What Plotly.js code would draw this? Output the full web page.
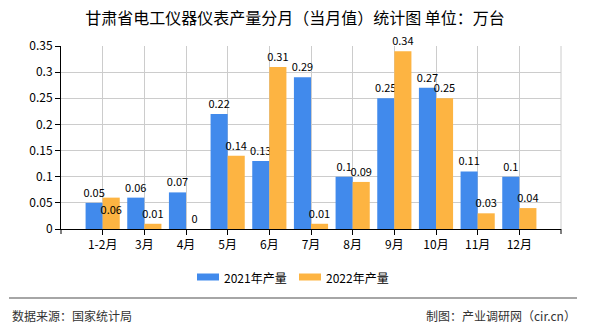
<!DOCTYPE html>
<html>
<head>
<meta charset="utf-8">
<script src="https://cdn.plot.ly/plotly-3.0.1.min.js"></script>
<style>html,body{margin:0;padding:0;background:#fff;}#chart{width:590px;height:330px;}</style>
</head>
<body>
<div id="chart"></div>
<script>
var categories = ["1-2月","3月","4月","5月","6月","7月","8月","9月","10月","11月","12月"];
var values2021 = [0.05,0.06,0.07,0.22,0.13,0.29,0.1,0.25,0.27,0.11,0.1];
var values2022 = [0.06,0.01,0,0.14,0.31,0.01,0.09,0.34,0.25,0.03,0.04];
var yTicks = [0,0.05,0.1,0.15,0.2,0.25,0.3,0.35];
var yTickText = ["0","0.05","0.1","0.15","0.2","0.25","0.3","0.35"];
var seriesNames = ["2021年产量","2022年产量"];
var colors = ["#418AEC","#FDB442"];

var FONT = "'Noto Sans CJK SC', 'Noto Sans', sans-serif";
var L = 61, R = 561, T = 46, B = 229;
function px(x){ return (x - L) / (R - L); }
function py(y){ return (B - y) / (B - T); }

var pos2022 = values2022.map(function(v,i){ return (i===0) ? 'inside' : 'outside'; });

var traces = [
  {type:'bar', x:categories, y:values2021, name:seriesNames[0], marker:{color:colors[0]},
   text:values2021.map(String), textposition:'outside', cliponaxis:false, constraintext:'none', textangle:0,
   textfont:{family:FONT,size:11,color:'#000'}, hoverinfo:'none'},
  {type:'bar', x:categories, y:values2022, name:seriesNames[1], marker:{color:colors[1]},
   text:values2022.map(String), textposition:pos2022, cliponaxis:false, constraintext:'none', textangle:0,
   insidetextanchor:'end',
   textfont:{family:FONT,size:11,color:'#000'},
   insidetextfont:{family:FONT,size:11,color:'#000'},
   outsidetextfont:{family:FONT,size:11,color:'#000'}, hoverinfo:'none'}
];

var shapes = [
  {type:'line', xref:'paper', yref:'paper', x0:1, x1:1, y0:0, y1:1, line:{color:'#cccccc', width:1}},
  {type:'line', xref:'paper', yref:'paper', x0:0, x1:0, y0:0, y1:py(234), line:{color:'#000', width:1}},
  {type:'line', xref:'paper', yref:'paper', x0:1, x1:1, y0:0, y1:py(234), line:{color:'#000', width:1}},
  {type:'line', xref:'paper', yref:'paper', x0:px(9), x1:px(577), y0:py(298), y1:py(298), line:{color:'#888888', width:1.5}},
  {type:'rect', xref:'paper', yref:'paper', x0:px(197), x1:px(219), y0:py(273.5), y1:py(280.5), fillcolor:colors[0], line:{width:0}},
  {type:'rect', xref:'paper', yref:'paper', x0:px(299), x1:px(321), y0:py(273.5), y1:py(280.5), fillcolor:colors[1], line:{width:0}}
];

var annotations = [
  {xref:'paper', yref:'paper', x:px(222), y:py(277), xanchor:'left', yanchor:'middle', text:seriesNames[0], showarrow:false, font:{family:FONT,size:12,color:'#000'}},
  {xref:'paper', yref:'paper', x:px(324), y:py(277), xanchor:'left', yanchor:'middle', text:seriesNames[1], showarrow:false, font:{family:FONT,size:12,color:'#000'}},
  {xref:'paper', yref:'paper', x:px(10), y:py(315), xanchor:'left', yanchor:'middle', text:'数据来源：国家统计局', showarrow:false, font:{family:FONT,size:12,color:'#333'}},
  {xref:'paper', yref:'paper', x:px(578), y:py(315), xanchor:'right', yanchor:'middle', text:'制图：产业调研网（cir.cn）', showarrow:false, font:{family:FONT,size:12,color:'#333'}}
];

var layout = {
  width:590, height:330,
  margin:{l:L, r:590-R, t:T, b:330-B},
  paper_bgcolor:'#fff', plot_bgcolor:'#fff',
  title:{text:'甘肃省电工仪器仪表产量分月（当月值）统计图 单位：万台', x:0.5, xref:'container', xanchor:'center', y:1-18/330, yref:'container', yanchor:'middle', font:{family:FONT,size:16,color:'#000'}},
  showlegend:false,
  barmode:'group', bargap:0.18, bargroupgap:0,
  xaxis:{type:'category', range:[-1, categories.length], showgrid:true, gridcolor:'#cccccc', gridwidth:1,
         showline:true, linecolor:'#000', linewidth:1, ticks:'outside', ticklen:5, tickcolor:'#000',
         tickfont:{family:FONT,size:12,color:'#000'}, fixedrange:true, zeroline:false},
  yaxis:{range:[0,0.35], tickvals:yTicks, ticktext:yTickText, showgrid:true, gridcolor:'#cccccc', gridwidth:1,
         showline:true, linecolor:'#000', linewidth:1, ticks:'outside', ticklen:5, tickcolor:'#000',
         tickfont:{family:FONT,size:12,color:'#000'}, zeroline:false, fixedrange:true},
  shapes:shapes, annotations:annotations,
  font:{family:FONT}
};

Plotly.newPlot('chart', traces, layout, {displayModeBar:false, staticPlot:true});
</script>
</body>
</html>
